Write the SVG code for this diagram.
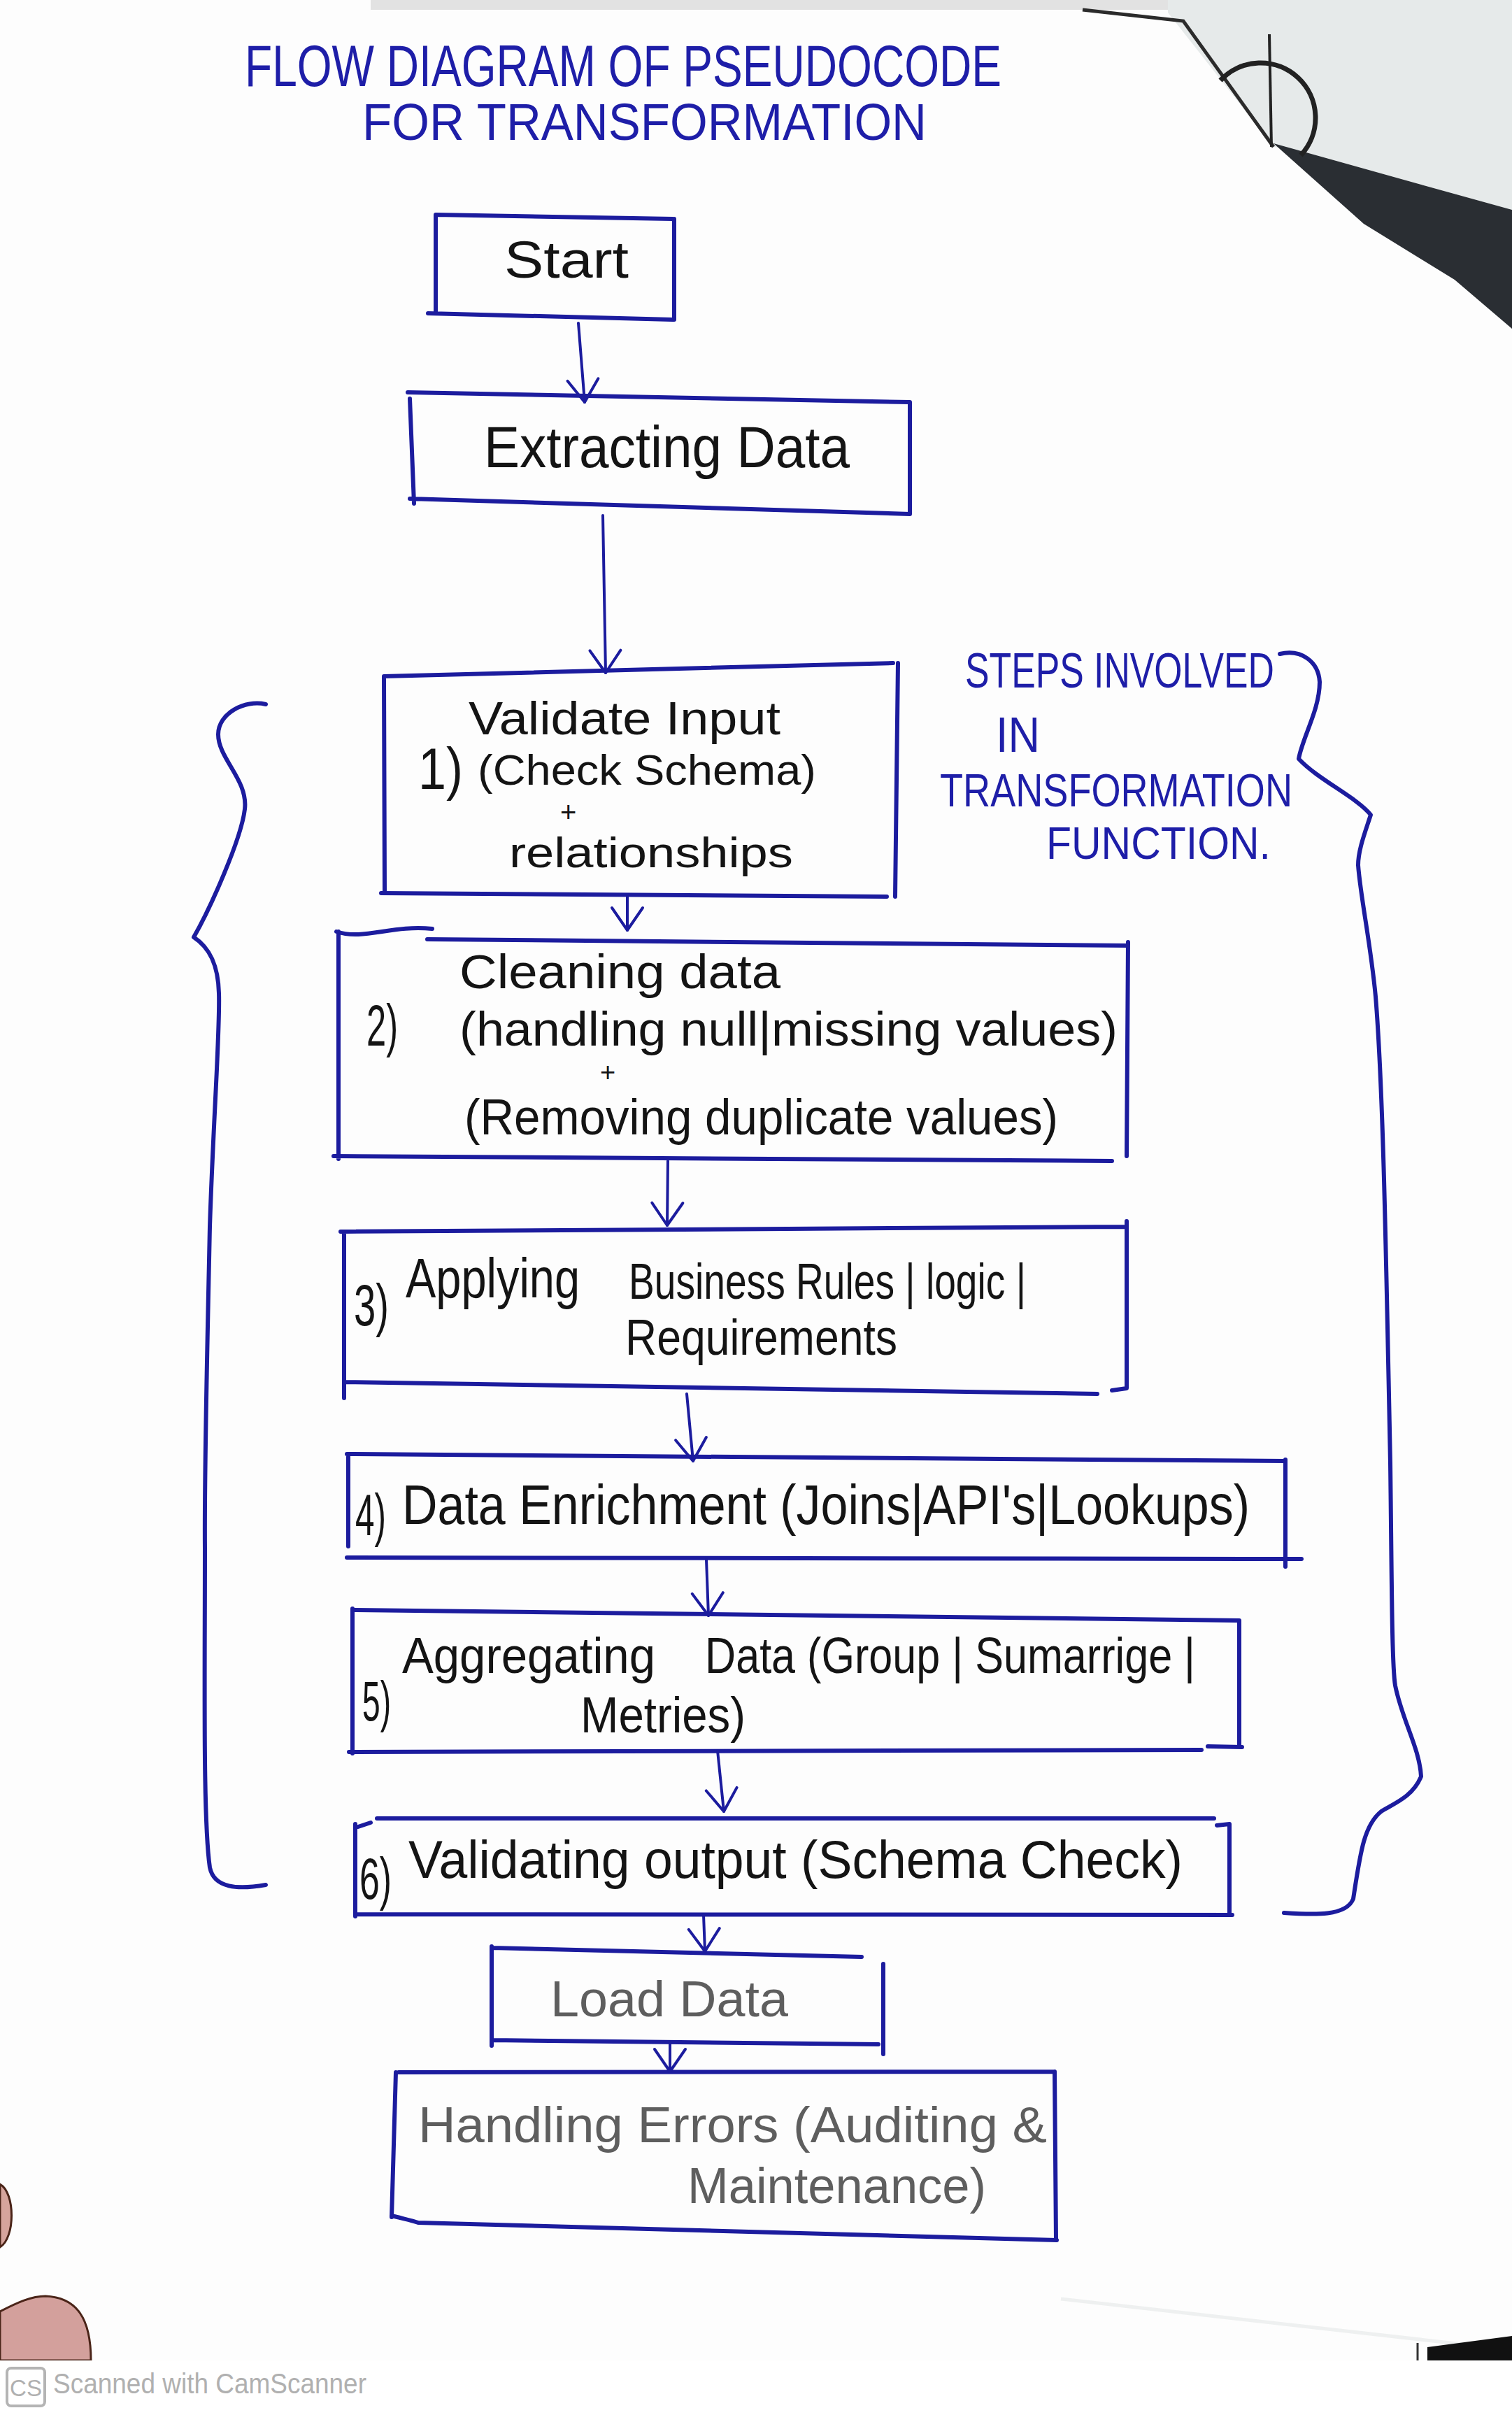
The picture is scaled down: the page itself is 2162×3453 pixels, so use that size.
<svg xmlns="http://www.w3.org/2000/svg" width="2162" height="3453" viewBox="0 0 2162 3453">
<style>
.box{fill:none;stroke:#1c1c9e;stroke-width:6;stroke-linecap:round;stroke-linejoin:round}
.con{fill:none;stroke:#1c1c9e;stroke-width:4;stroke-linecap:round}
.brace{fill:none;stroke:#1c1c9e;stroke-width:6;stroke-linecap:round;stroke-linejoin:round}
.t{font-family:"Liberation Sans",Arial,sans-serif;fill:#141414}
.g{font-family:"Liberation Sans",Arial,sans-serif;fill:#5e5e5e}
.b{font-family:"Liberation Sans",Arial,sans-serif;fill:#1e1ea8}
</style>
<defs>
<marker id="arr" markerUnits="userSpaceOnUse" viewBox="-40 -30 50 60" markerWidth="50" markerHeight="60" refX="0" refY="0" orient="auto" overflow="visible">
<path d="M-32,-22 L0,0 L-32,22" fill="none" stroke="#1c1c9e" stroke-width="4" stroke-linecap="round" stroke-linejoin="round"/>
</marker>
</defs>
<rect x="0" y="0" width="2162" height="3453" fill="#fdfdfd"/>

<g id="photo">
<rect x="530" y="0" width="1150" height="14" fill="#e2e2e2"/>
<polygon points="1670,0 2162,0 2162,300 2000,255 1857,215 1821,210 1670,18" fill="#e6eaea"/>
<polygon points="1821,205 1857,215 2000,255 2162,300 2162,470 2080,400 1950,320" fill="#2a2e33"/>
<path d="M1548,14 L1692,30 L1821,210" fill="none" stroke="#2b2b2b" stroke-width="5"/>
<path d="M1745,115 A64,64 0 0 1 1860,222" fill="none" stroke="#222" stroke-width="7"/>
<line x1="1815" y1="49" x2="1818" y2="210" stroke="#222" stroke-width="4"/>
<path d="M0,3123 C22,3135 22,3200 0,3213 Z" fill="#d6a49c" stroke="#4a2418" stroke-width="3"/>
<path d="M0,3305 C25,3292 45,3283 65,3283 C110,3285 130,3315 130,3375 L0,3375 Z" fill="#d3a09c" stroke="#4a2418" stroke-width="3"/>
<line x1="1517" y1="3287" x2="2137" y2="3357" stroke="#eef0f0" stroke-width="5"/>
<polygon points="2041,3356 2162,3340 2162,3375 2041,3375" fill="#111"/>
<line x1="2027" y1="3350" x2="2027" y2="3375" stroke="#333" stroke-width="3"/>
<rect x="0" y="3375" width="2162" height="78" fill="#ffffff"/>
</g>

<g id="title">
<text class="b" font-size="84"><tspan x="350" y="123" textLength="1082" lengthAdjust="spacingAndGlyphs">FLOW DIAGRAM OF PSEUDOCODE</tspan><tspan x="518" y="200" font-size="74" textLength="807" lengthAdjust="spacingAndGlyphs">FOR TRANSFORMATION</tspan></text>
</g>

<g id="annotation">
<text class="b" font-size="70"><tspan x="1380" y="983" textLength="442" lengthAdjust="spacingAndGlyphs">STEPS INVOLVED</tspan><tspan x="1424" y="1075" textLength="63" lengthAdjust="spacingAndGlyphs">IN</tspan><tspan x="1344" y="1153" font-size="66" textLength="504" lengthAdjust="spacingAndGlyphs">TRANSFORMATION</tspan><tspan x="1496" y="1228" font-size="64" textLength="321" lengthAdjust="spacingAndGlyphs">FUNCTION.</tspan></text>
</g>

<g id="braces">
<path class="brace" d="M380,1007 C350,1000 312,1020 312,1050 C312,1085 355,1115 350,1157 C345,1200 300,1300 277,1340 C300,1355 312,1380 313,1420 C315,1470 305,1600 300,1754 C296,1950 292,2100 293,2213 C293,2400 290,2600 300,2670 C306,2700 340,2702 380,2695"/>
<path class="brace" d="M1830,935 C1860,928 1885,945 1887,975 C1887,1015 1862,1055 1857,1085 C1885,1115 1940,1140 1960,1165 C1952,1190 1942,1215 1942,1237 C1945,1280 1960,1350 1967,1425 C1978,1560 1982,1800 1988,2092 C1990,2250 1990,2380 1995,2410 C2005,2460 2030,2500 2032,2540 C2020,2570 1990,2580 1975,2590 C1950,2610 1945,2650 1935,2715 C1925,2740 1880,2738 1836,2735"/>
</g>

<g id="node-start">
<path class="box" d="M623,307 L962,313 M623,307 L623,447 M612,448 L962,457 M964,313 L964,457"/>
<text class="t" x="721" y="397" font-size="75" textLength="178" lengthAdjust="spacingAndGlyphs">Start</text>
</g>

<g id="node-extract">
<path class="box" d="M583,561 L1301,575 M586,570 L592,720 M586,713 L1301,735 M1301,575 L1301,735"/>
<text class="t" x="692" y="668" font-size="84" textLength="523" lengthAdjust="spacingAndGlyphs">Extracting Data</text>
</g>

<g id="node-step1">
<path class="box" d="M549,967 L1277,948 M549,967 L550,1275 M545,1277 L1268,1282 M1284,948 L1280,1282"/>
<text class="t" font-size="66"><tspan x="670" y="1050" textLength="446" lengthAdjust="spacingAndGlyphs">Validate Input</tspan><tspan x="598" y="1128" font-size="84" textLength="64" lengthAdjust="spacingAndGlyphs">1)</tspan><tspan x="683" y="1122" font-size="62" textLength="484" lengthAdjust="spacingAndGlyphs">(Check Schema)</tspan><tspan x="801" y="1175" font-size="40">+</tspan><tspan x="728" y="1240" font-size="62" textLength="406" lengthAdjust="spacingAndGlyphs">relationships</tspan></text>
</g>

<g id="node-step2">
<path class="box" d="M481,1332 C520,1345 560,1322 618,1328 M611,1343 L1613,1352 M484,1332 L484,1657 M477,1653 L1590,1660 M1613,1347 L1611,1653"/>
<text class="t" font-size="68"><tspan x="657" y="1413" textLength="459" lengthAdjust="spacingAndGlyphs">Cleaning data</tspan><tspan x="524" y="1495" font-size="84" textLength="45" lengthAdjust="spacingAndGlyphs">2)</tspan><tspan x="657" y="1495" textLength="941" lengthAdjust="spacingAndGlyphs">(handling null|missing values)</tspan><tspan x="858" y="1546" font-size="38">+</tspan><tspan x="664" y="1622" font-size="72" textLength="849" lengthAdjust="spacingAndGlyphs">(Removing duplicate values)</tspan></text>
</g>

<g id="node-step3">
<path class="box" d="M487,1761 L1611,1754 M492,1761 L492,1999 M492,1976 L1569,1993 M1611,1746 L1611,1985 L1590,1988"/>
<text class="t" font-size="72"><tspan x="506" y="1895" font-size="84" textLength="50" lengthAdjust="spacingAndGlyphs">3)</tspan><tspan x="580" y="1855" font-size="80" textLength="249" lengthAdjust="spacingAndGlyphs">Applying</tspan><tspan x="899" y="1857" textLength="568" lengthAdjust="spacingAndGlyphs">Business Rules | logic |</tspan><tspan x="894" y="1937" textLength="389" lengthAdjust="spacingAndGlyphs">Requirements</tspan></text>
</g>

<g id="node-step4">
<path class="box" d="M496,2079 L1838,2089 M498,2083 L498,2211 M496,2227 L1861,2229 M1838,2087 L1838,2240"/>
<text class="t" font-size="80"><tspan x="508" y="2195" font-size="84" textLength="44" lengthAdjust="spacingAndGlyphs">4)</tspan><tspan x="575" y="2179" textLength="1212" lengthAdjust="spacingAndGlyphs">Data Enrichment (Joins|API's|Lookups)</tspan></text>
</g>

<g id="node-step5">
<path class="box" d="M504,2302 L1772,2317 M504,2300 L504,2507 M499,2505 L1718,2502 M1727,2497 L1776,2498 M1772,2317 L1772,2498"/>
<text class="t" font-size="72"><tspan x="518" y="2460" font-size="80" textLength="41" lengthAdjust="spacingAndGlyphs">5)</tspan><tspan x="575" y="2392" textLength="362" lengthAdjust="spacingAndGlyphs">Aggregating</tspan><tspan x="1008" y="2392" textLength="701" lengthAdjust="spacingAndGlyphs">Data (Group | Sumarrige |</tspan><tspan x="830" y="2477" textLength="236" lengthAdjust="spacingAndGlyphs">Metries)</tspan></text>
</g>

<g id="node-step6">
<path class="box" d="M539,2600 L1736,2600 M512,2612 L530,2606 M508,2608 L508,2740 M508,2737 L1762,2738 M1740,2610 L1758,2608 L1758,2738"/>
<text class="t" font-size="76"><tspan x="514" y="2715" font-size="84" textLength="46" lengthAdjust="spacingAndGlyphs">6)</tspan><tspan x="584" y="2685" textLength="1107" lengthAdjust="spacingAndGlyphs">Validating output (Schema Check)</tspan></text>
</g>

<g id="node-load">
<path class="box" d="M703,2785 L1232,2798 M703,2783 L703,2925 M703,2917 L1256,2923 M1263,2808 L1263,2937"/>
<text class="g" x="787" y="2883" font-size="72" textLength="340" lengthAdjust="spacingAndGlyphs">Load Data</text>
</g>

<g id="node-errors">
<path class="box" d="M570,2963 L1508,2962 M566,2963 L560,3170 M560,3168 C575,3172 590,3175 598,3178 M598,3178 L1511,3203 M1508,2962 L1510,3203"/>
<text class="g" font-size="72"><tspan x="598" y="3063" textLength="899" lengthAdjust="spacingAndGlyphs">Handling Errors (Auditing &amp;</tspan><tspan x="983" y="3150" textLength="427" lengthAdjust="spacingAndGlyphs">Maintenance)</tspan></text>
</g>

<g id="connectors">
<line class="con" x1="827" y1="462" x2="836" y2="575" marker-end="url(#arr)"/>
<line class="con" x1="862" y1="737" x2="866" y2="962" marker-end="url(#arr)"/>
<line class="con" x1="897" y1="1282" x2="897" y2="1330" marker-end="url(#arr)"/>
<line class="con" x1="955" y1="1660" x2="954" y2="1752" marker-end="url(#arr)"/>
<line class="con" x1="982" y1="1993" x2="991" y2="2089" marker-end="url(#arr)"/>
<line class="con" x1="1010" y1="2230" x2="1013" y2="2310" marker-end="url(#arr)"/>
<line class="con" x1="1026" y1="2503" x2="1035" y2="2590" marker-end="url(#arr)"/>
<line class="con" x1="1006" y1="2738" x2="1008" y2="2790" marker-end="url(#arr)"/>
<line class="con" x1="958" y1="2920" x2="958" y2="2962" marker-end="url(#arr)"/>
</g>

<g id="watermark">
<rect x="10" y="3386" width="54" height="54" rx="6" fill="none" stroke="#b4b4b4" stroke-width="4"/>
<text font-family="Liberation Sans, Arial, sans-serif" fill="#b0b0b0"><tspan x="14" y="3426" font-size="34" textLength="46" lengthAdjust="spacingAndGlyphs">CS</tspan><tspan x="76" y="3422" font-size="40" textLength="448" lengthAdjust="spacingAndGlyphs">Scanned with CamScanner</tspan></text>
</g>
</svg>
